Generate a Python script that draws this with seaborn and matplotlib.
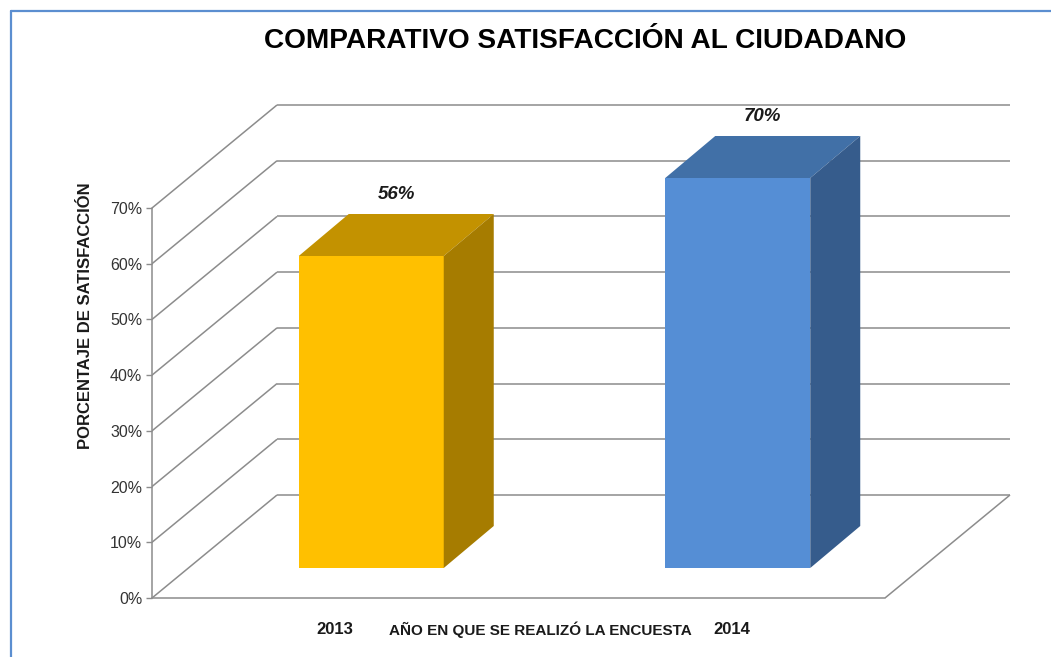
import matplotlib
matplotlib.use('agg')
import matplotlib.pyplot as plt
from matplotlib.patches import Polygon
from matplotlib.lines import Line2D
import seaborn as sns

# data
years = ["2013", "2014"]
values = [56, 70]
front_colors = ["#FFC000", "#558ED5"]
top_colors = ["#C39200", "#4170A7"]
side_colors = ["#A67C00", "#365C8C"]
yticks = [0, 10, 20, 30, 40, 50, 60, 70]

title = "COMPARATIVO SATISFACCIÓN AL CIUDADANO"
ylabel = "PORCENTAJE DE SATISFACCIÓN"
xlabel = "AÑO EN QUE SE REALIZÓ LA ENCUESTA"

sns.set_style("white")
plt.rcParams['font.family'] = ['Liberation Sans Narrow', 'Liberation Sans', 'DejaVu Sans']

W, H = 1051, 657
fig = plt.figure(figsize=(W / 100, H / 100), dpi=100)

# pixel scale of the chart (x per category unit, y per percent)
px_x = 366.5
px_y = 390 / 70.0
# full depth of the 3d box, front offset of the bars, depth of the bars (px)
DX, DY = 125 / px_x, 103 / px_y
FX, FY = 36 / px_x, 30 / px_y
BX, BY = 50 / px_x, 42 / px_y

ax_l, ax_b, ax_w, ax_h = 152, 59, 863, 501
ax = fig.add_axes([ax_l / W, ax_b / H, ax_w / W, ax_h / H])

sns.barplot(x=years, y=values, hue=years, palette=front_colors, legend=False,
            width=145 / px_x, saturation=1, ax=ax, zorder=3, linewidth=0)

ax.set_xlim(-0.5, -0.5 + ax_w / px_x)
ax.set_ylim(0, ax_h / px_y)

# 3d frame: side wall, back wall and floor
grid_kw = dict(color="#8c8c8c", lw=1.1, zorder=1, solid_capstyle="butt")
x_front_l, x_front_r = -0.5, 1.5
for v in yticks:
    ax.plot([x_front_l, x_front_l + DX], [v, v + DY], **grid_kw)
    ax.plot([x_front_l + DX, x_front_r + DX], [v + DY, v + DY], **grid_kw)
ax.plot([x_front_r, x_front_r + DX], [0, DY], **grid_kw)

# shift bars to their depth and add top / side faces
for i, p in enumerate(ax.patches[:len(values)]):
    x, w, h = p.get_x(), p.get_width(), p.get_height()
    p.set_x(x + FX)
    p.set_y(FY)
    x0, y0 = x + FX, FY
    top = Polygon([(x0, y0 + h), (x0 + w, y0 + h), (x0 + w + BX, y0 + h + BY), (x0 + BX, y0 + h + BY)],
                  closed=True, facecolor=top_colors[i], edgecolor="none", zorder=3)
    side = Polygon([(x0 + w, y0), (x0 + w + BX, y0 + BY), (x0 + w + BX, y0 + h + BY), (x0 + w, y0 + h)],
                   closed=True, facecolor=side_colors[i], edgecolor="none", zorder=3)
    ax.add_patch(top)
    ax.add_patch(side)
    ax.text(x0 + w / 2 + BX / 2, y0 + h + 62 / px_y, "%d%%" % values[i],
            ha="center", va="center", fontsize=13.5, fontweight="bold", fontstyle="italic",
            color="#1a1a1a")

# axes styling
for s in ["top", "right"]:
    ax.spines[s].set_visible(False)
ax.spines["left"].set_bounds(0, 70)
ax.spines["bottom"].set_bounds(x_front_l, x_front_r)
for s in ["left", "bottom"]:
    ax.spines[s].set_color("#8c8c8c")
    ax.spines[s].set_linewidth(1.1)

ax.set_yticks(yticks)
ax.set_yticklabels(["%d%%" % v for v in yticks], fontsize=11.5, color="#333333")
ax.tick_params(axis="y", length=4, width=1, color="#8c8c8c", pad=3, left=True)

ax.set_xticks([0, 1 + 30 / px_x])
ax.set_xticklabels(years, fontsize=12, fontweight="bold", color="#1a1a1a")
ax.tick_params(axis="x", length=0, pad=17)

ax.set_xlabel(xlabel, fontsize=11, fontweight="bold", color="#1a1a1a")
ax.xaxis.set_label_coords((540 - ax_l) / ax_w, -(622 - (H - ax_b)) / ax_h)
ax.set_ylabel(ylabel, fontsize=12, fontweight="bold", color="#1a1a1a")
ax.yaxis.set_label_coords(-(152 - 93) / ax_w, (H - 316 - ax_b) / ax_h)

fig.text(585 / W, 1 - 41 / H, title, ha="center", va="center",
         fontsize=20.2, fontweight="bold", color="black")

# chart area border (top and left edges)
border_c = "#5B8ED0"
fig.add_artist(Line2D([11 / W, 1], [1 - 11 / H, 1 - 11 / H], color=border_c, lw=1.6,
                      transform=fig.transFigure))
fig.add_artist(Line2D([11 / W, 11 / W], [0, 1 - 11 / H], color=border_c, lw=1.6,
                      transform=fig.transFigure))

fig.savefig("out.png", dpi=100)
